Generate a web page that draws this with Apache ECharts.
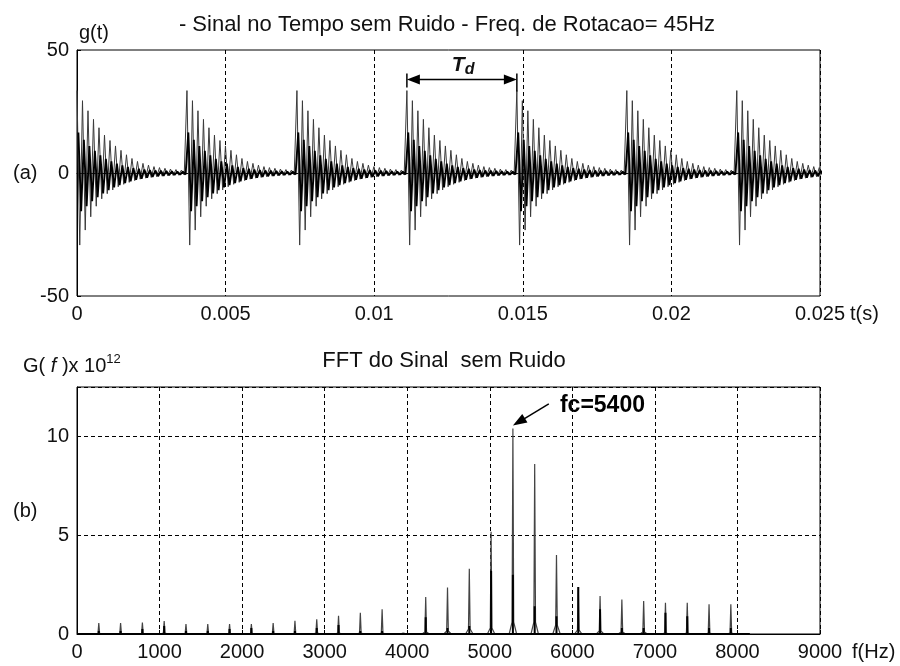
<!DOCTYPE html>
<html><head><meta charset="utf-8">
<script src="https://cdn.jsdelivr.net/npm/echarts@6/dist/echarts.min.js"></script>
<style>html,body{margin:0;padding:0;background:#fff}#c{width:900px;height:666px}</style>
</head><body><div id="c"></div>
<script>
// ---------------- data ----------------
// (a) time signal: bursts repeat every ~0.0037 s, ringing at ~5400 Hz
const burstStarts = [0, 0.0037, 0.0074, 0.0111, 0.0148, 0.0185, 0.0222];
const ringPeriod = 0.000185;               // s, one ringing cycle
const outerPos = [33.5, 29.4, 25.3, 21.8, 18.4, 15.4, 13.2, 11.0, 9.2, 7.4, 5.9, 4.7, 3.9, 3.2, 2.6, 2.2, 1.9, 1.6, 1.4, 1.2];
const outerNeg = [-29.3, -23.2, -17.8, -13.5, -10.5, -8.4, -6.9, -5.6, -4.6, -3.8, -3.1, -2.5, -2.1, -1.8, -1.5, -1.3, -1.1, -1.0, -0.9, -0.8];
const innerPos = [16.5, 13.5, 11.0, 9.0, 7.2, 5.8, 4.7, 3.8, 3.1, 2.5, 2.0, 1.7, 1.4, 1.2, 1.0, 0.9, 0.8, 0.7, 0.6, 0.5];
const innerNeg = [-15.5, -13.5, -11.5, -9.8, -8.3, -7.0, -5.9, -4.9, -4.1, -3.4, -2.8, -2.3, -1.9, -1.6, -1.3, -1.1, -0.9, -0.8, -0.7, -0.6];
const timeTickLabels = ['0', '0.005', '0.01', '0.015', '0.02', '0.025'];

// (b) spectrum: harmonic lines (Hz) and their heights (x 10^12)
const harmonicFreq = [264, 528, 792, 1056, 1320, 1584, 1848, 2112, 2376, 2640, 2904, 3168, 3432, 3696, 3960, 4224, 4488, 4752, 5016, 5280, 5544, 5808, 6072, 6336, 6600, 6864, 7128, 7392, 7656, 7920];
const harmonicPeak = [0.55, 0.55, 0.58, 0.65, 0.5, 0.5, 0.5, 0.5, 0.55, 0.67, 0.75, 0.92, 1.08, 1.25, 0.1, 1.87, 2.35, 3.3, 5.17, 10.4, 8.6, 4.0, 2.38, 1.92, 1.75, 1.67, 1.58, 1.58, 1.5, 1.5];
const harmonicCore = [0.15, 0.15, 0.25, 0.4, 0.15, 0.15, 0.25, 0.3, 0.15, 0.15, 0.3, 0.45, 0.15, 0.15, 0.1, 0.85, 0.3, 0.4, 3.2, 3.0, 1.4, 0.9, 2.38, 1.25, 0.3, 0.3, 1.08, 0.9, 0.3, 0.3];
const harmonicBase = [0.02, 0.02, 0.02, 0.05, 0.02, 0.02, 0.02, 0.02, 0.02, 0.02, 0.05, 0.05, 0.05, 0.05, 0.05, 0.1, 0.15, 0.25, 0.3, 0.6, 0.6, 0.45, 0.2, 0.15, 0.1, 0.1, 0.05, 0.05, 0.05, 0.05];
const spectrumEnd = 8150;
const freqTickLabels = ['0', '1000', '2000', '3000', '4000', '5000', '6000', '7000', '8000', '9000'];

// annotations
const tdStart = 0.0111, tdEnd = 0.0148, tdLevel = 38;
const fcPeak = [5280, 10.55], fcTail = [5715, 11.65], fcText = [5850, 11.55];

// ---------------- build series ----------------
const timeOuter = [], timeInner = [];
burstStarts.forEach(s => {
  outerPos.forEach((v, k) => {
    timeOuter.push([s + k * ringPeriod, v]);
    timeOuter.push([s + (k + 0.5) * ringPeriod, outerNeg[k]]);
    timeInner.push([s + (k + 0.25) * ringPeriod, innerPos[k]]);
    timeInner.push([s + (k + 0.75) * ringPeriod, innerNeg[k]]);
  });
});

const specLine = [[0, 0]], specCore = [[0, 0]];
harmonicFreq.forEach((f, i) => {
  const b = harmonicBase[i];
  specLine.push([f - 45, 0], [f - 10, b], [f, harmonicPeak[i]], [f + 10, b], [f + 45, 0]);
  specCore.push([f, 0], [f, harmonicCore[i]], [f, 0]);
});
specLine.push([spectrumEnd, 0]);
specCore.push([spectrumEnd, 0]);

const FONT = "'Liberation Sans', Arial, sans-serif";
const TXT = '#111';

const dashed = { show: true, lineStyle: { color: '#000', width: 1, type: [4, 3] } };
const axisCommon = {
  axisLine: { show: true, lineStyle: { color: '#000', width: 1 } },
  axisTick: { show: true, inside: true, length: 4, lineStyle: { color: '#000' } },
  axisLabel: { color: TXT, fontSize: 20, fontFamily: FONT, margin: 8 }
};

const chart = echarts.init(document.getElementById('c'), null, { renderer: 'canvas' });
const option = {
  animation: false,
  backgroundColor: '#fff',
  grid: [
    { left: 77, top: 50, width: 743, height: 246, show: true, borderColor: '#000', borderWidth: 1, backgroundColor: 'transparent' },
    { left: 77, top: 387, width: 743, height: 247, show: true, borderColor: '#000', borderWidth: 1, backgroundColor: 'transparent' }
  ],
  xAxis: [
    Object.assign({}, axisCommon, {
      type: 'value', gridIndex: 0, min: 0, max: 0.025, interval: 0.005,
      splitLine: dashed,
      axisLabel: Object.assign({}, axisCommon.axisLabel, {
        formatter: v => timeTickLabels[Math.round(v / 0.005)] })
    }),
    Object.assign({}, axisCommon, {
      type: 'value', gridIndex: 1, min: 0, max: 9000, interval: 1000,
      splitLine: dashed,
      axisLabel: Object.assign({}, axisCommon.axisLabel, {
        formatter: v => freqTickLabels[Math.round(v / 1000)] })
    })
  ],
  yAxis: [
    Object.assign({}, axisCommon, {
      type: 'value', gridIndex: 0, min: -50, max: 50, interval: 50,
      splitLine: { show: false }
    }),
    Object.assign({}, axisCommon, {
      type: 'value', gridIndex: 1, min: 0, max: 12.5, interval: 5,
      splitLine: dashed,
      axisLabel: Object.assign({}, axisCommon.axisLabel, { showMaxLabel: false,
        formatter: v => (v % 5 === 0 ? String(v) : '') })
    })
  ],
  series: [
    { type: 'line', name: 'g(t) outer', xAxisIndex: 0, yAxisIndex: 0, data: timeOuter,
      showSymbol: false, symbol: 'none', clip: true,
      lineStyle: { color: '#3a3a3a', width: 1 } },
    { type: 'line', name: 'g(t) core', xAxisIndex: 0, yAxisIndex: 0, data: timeInner,
      showSymbol: false, symbol: 'none', clip: true,
      lineStyle: { color: '#000', width: 1.9 } },
    { type: 'line', name: 'G(f)', xAxisIndex: 1, yAxisIndex: 1, data: specLine,
      showSymbol: false, symbol: 'none', clip: true,
      lineStyle: { color: '#444', width: 1.2 } },
    { type: 'line', name: 'G(f) core', xAxisIndex: 1, yAxisIndex: 1, data: specCore,
      showSymbol: false, symbol: 'none', clip: true,
      lineStyle: { color: '#000', width: 2 } }
  ]
};
chart.setOption(option);

// ---------------- annotations (positioned through the axes) ----------------
const px = (g, pt) => chart.convertToPixel({ gridIndex: g }, pt);
function arrowHead(tip, from, L, W) {
  const dx = tip[0] - from[0], dy = tip[1] - from[1];
  const len = Math.hypot(dx, dy), ux = dx / len, uy = dy / len;
  const bx = tip[0] - L * ux, by = tip[1] - L * uy;
  return { type: 'polygon', z: 100, shape: { points: [tip, [bx - W * uy, by + W * ux], [bx + W * uy, by - W * ux]] },
           style: { fill: '#000' } };
}
const tA = px(0, [tdStart, tdLevel]), tB = px(0, [tdEnd, tdLevel]);
const fP = px(1, fcPeak), fT = px(1, fcTail), fX = px(1, fcText);
const text = (x, y, t, size, extra) => Object.assign({ type: 'text', z: 100,
  style: Object.assign({ x: x, y: y, text: t, font: size + 'px ' + FONT, fill: TXT,
    textAlign: 'left', textVerticalAlign: 'middle' }, extra || {}) });

const graphics = [
  text(447, 25, '- Sinal no Tempo sem Ruido - Freq. de Rotacao= 45Hz', 22, { textAlign: 'center' }),
  text(444, 361, 'FFT do Sinal  sem Ruido', 22, { textAlign: 'center' }),
  text(79, 33, 'g(t)', 20),
  text(13, 173, '(a)', 20),
  text(13, 511, '(b)', 20),
  text(850, 314, 't(s)', 20),
  text(852, 652, 'f(Hz)', 20),
  { type: 'text', z: 100, style: { x: 23, y: 366, textVerticalAlign: 'middle', fill: TXT,
      text: '{n|G( }{i|f}{n| )x 10}{s|12}',
      rich: {
        n: { fontSize: 20, fontFamily: FONT, fill: TXT, lineHeight: 26 },
        i: { fontSize: 20, fontFamily: FONT, fontStyle: 'italic', fill: TXT, lineHeight: 26 },
        s: { fontSize: 13, fontFamily: FONT, fill: TXT, verticalAlign: 'top', lineHeight: 26 }
      } } },
  // T_d double arrow
  { type: 'line', z: 100, shape: { x1: tA[0] + 6, y1: tA[1], x2: tB[0] - 6, y2: tB[1] }, style: { stroke: '#000', lineWidth: 1.5 } },
  arrowHead(tA, tB, 13, 5),
  arrowHead(tB, tA, 13, 5),
  { type: 'line', z: 100, shape: { x1: tA[0], y1: tA[1] - 6, x2: tA[0], y2: tA[1] + 8 }, style: { stroke: '#000', lineWidth: 1.5 } },
  { type: 'line', z: 100, shape: { x1: tB[0], y1: tB[1] - 6, x2: tB[0], y2: tB[1] + 12 }, style: { stroke: '#000', lineWidth: 1.5 } },
  { type: 'text', z: 100, style: { x: (tA[0] + tB[0]) / 2 - 10, y: tA[1] - 14, textVerticalAlign: 'middle', fill: TXT,
      text: '{t|T}{d|d}',
      rich: {
        t: { fontSize: 21, fontFamily: FONT, fontStyle: 'italic', fontWeight: 'bold', fill: TXT },
        d: { fontSize: 16, fontFamily: FONT, fontStyle: 'italic', fontWeight: 'bold', fill: TXT, padding: [8, 0, 0, 0] }
      } } },
  // fc arrow
  { type: 'line', z: 100, shape: { x1: fT[0], y1: fT[1], x2: fP[0] + 5, y2: fP[1] - 3 }, style: { stroke: '#000', lineWidth: 1.5 } },
  arrowHead(fP, fT, 14, 5),
  text(fX[0], fX[1], 'fc=5400', 23, { font: 'bold 23px ' + FONT, fill: '#000' })
];
chart.setOption({ graphic: graphics });
</script>
</body></html>
